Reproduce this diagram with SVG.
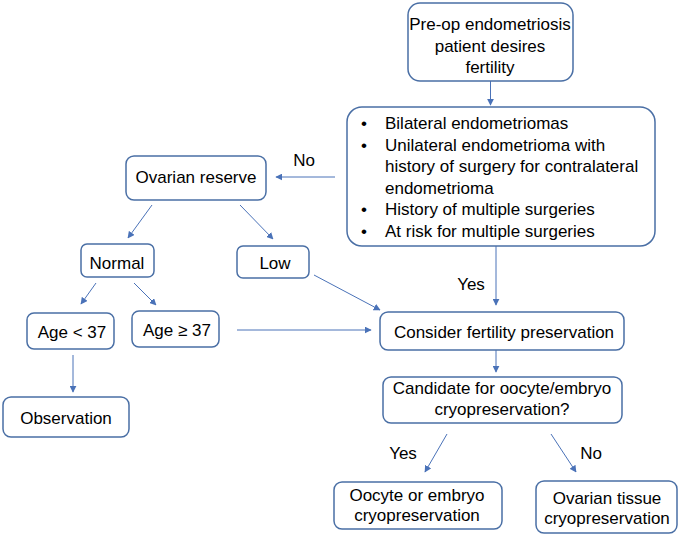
<svg xmlns="http://www.w3.org/2000/svg" width="681" height="537" viewBox="0 0 681 537">
<style>
.box{fill:#fff;stroke:#4a6fa5;stroke-width:1.5}
.t{font-family:"Liberation Sans",Arial,sans-serif;font-size:17px;fill:#000}
.c{text-anchor:middle}
.con line{stroke:#4a72b8;stroke-width:1;marker-end:url(#ah)}
</style>
<defs>
<marker id="ah" viewBox="0 0 10 10" refX="9" refY="5" markerWidth="7" markerHeight="7" markerUnits="userSpaceOnUse" orient="auto">
<path d="M0,0 L10,5 L0,10 z" fill="#4a72b8"/>
</marker>
</defs>
<rect width="681" height="537" fill="#fff"/>
<g id="connectors" class="con">
<line x1="490.5" y1="81" x2="490.5" y2="105"/>
<line x1="496" y1="246" x2="496" y2="305"/>
<line x1="335" y1="177" x2="276" y2="177"/>
<line x1="152" y1="205" x2="128" y2="238"/>
<line x1="240" y1="205" x2="273" y2="239"/>
<line x1="96" y1="283" x2="81" y2="304"/>
<line x1="134" y1="283" x2="156" y2="305"/>
<line x1="237" y1="330" x2="371" y2="330"/>
<line x1="314" y1="275" x2="380" y2="310"/>
<line x1="73" y1="355" x2="73" y2="392"/>
<line x1="496" y1="350" x2="496" y2="372"/>
<line x1="447" y1="434" x2="425" y2="472"/>
<line x1="551" y1="434" x2="576" y2="472"/>
</g>
<g id="start">
<rect class="box" x="408" y="3" width="165" height="78" rx="12"/>
<text class="t c" x="490" y="30">Pre-op endometriosis</text>
<text class="t c" x="490" y="52">patient desires</text>
<text class="t c" x="490" y="73">fertility</text>
</g>
<g id="criteria">
<rect class="box" x="347" y="107" width="308" height="139" rx="15"/>
<g class="t">
<text x="361" y="129">•</text><text x="385" y="129">Bilateral endometriomas</text>
<text x="361" y="150.6">•</text><text x="385" y="150.6">Unilateral endometrioma with</text>
<text x="385" y="172.2">history of surgery for contralateral</text>
<text x="385" y="193.8">endometrioma</text>
<text x="361" y="215.4">•</text><text x="385" y="215.4">History of multiple surgeries</text>
<text x="361" y="237">•</text><text x="385" y="237">At risk for multiple surgeries</text>
</g>
</g>
<g id="ovarian-reserve">
<rect class="box" x="126" y="156" width="140" height="44" rx="8"/>
<text class="t c" x="196" y="183">Ovarian reserve</text>
</g>
<g id="normal">
<rect class="box" x="81" y="244" width="73" height="33" rx="6"/>
<text class="t c" x="117" y="269">Normal</text>
</g>
<g id="low">
<rect class="box" x="237" y="246" width="72" height="32" rx="6"/>
<text class="t c" x="275" y="269">Low</text>
</g>
<g id="age-lt-37">
<rect class="box" x="27" y="313" width="87" height="36" rx="7"/>
<text class="t c" x="72" y="338">Age &lt; 37</text>
</g>
<g id="age-ge-37">
<rect class="box" x="132" y="311" width="87" height="36" rx="7"/>
<text class="t c" x="177" y="336">Age ≥ 37</text>
</g>
<g id="observation">
<rect class="box" x="3" y="397" width="126" height="40" rx="8"/>
<text class="t c" x="66" y="424">Observation</text>
</g>
<g id="consider">
<rect class="box" x="380" y="312" width="244" height="38" rx="8"/>
<text class="t c" x="504" y="338">Consider fertility preservation</text>
</g>
<g id="candidate">
<rect class="box" x="383" y="377" width="239" height="46" rx="8"/>
<text class="t c" x="502" y="394">Candidate for oocyte/embryo</text>
<text class="t c" x="502" y="415">cryopreservation?</text>
</g>
<g id="oocyte">
<rect class="box" x="334" y="482" width="168" height="47" rx="8"/>
<text class="t c" x="417" y="501">Oocyte or embryo</text>
<text class="t c" x="417" y="521">cryopreservation</text>
</g>
<g id="tissue">
<rect class="box" x="536" y="481" width="141" height="52" rx="8"/>
<text class="t c" x="607" y="504">Ovarian tissue</text>
<text class="t c" x="607" y="524">cryopreservation</text>
</g>
<g id="labels" class="t c">
<text x="304" y="166">No</text>
<text x="471" y="290">Yes</text>
<text x="403" y="459">Yes</text>
<text x="591" y="459">No</text>
</g>
</svg>
